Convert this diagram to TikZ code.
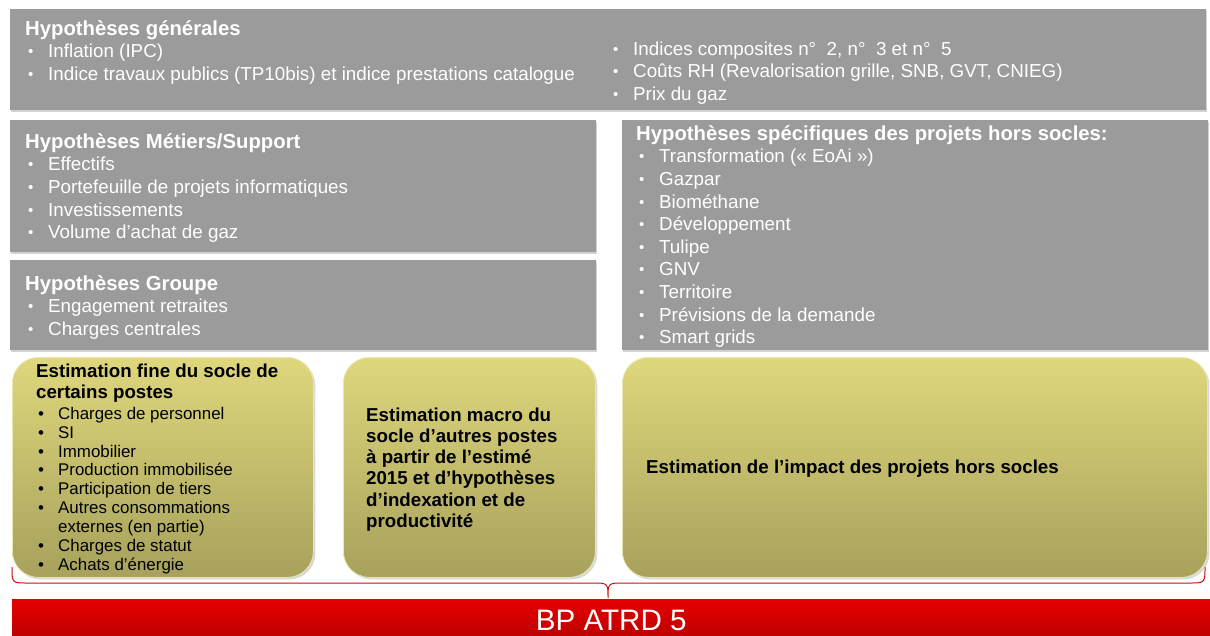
\documentclass[tikz,border=0pt]{standalone}
\usepackage{fontspec}
\setmainfont{Liberation Sans}
\usetikzlibrary{positioning,shadows}

\definecolor{hypgrey}{RGB}{155,155,155}
\definecolor{esttop}{RGB}{222,215,124}
\definecolor{estbot}{RGB}{167,161,92}
\definecolor{bptop}{RGB}{230,0,0}
\definecolor{bpbot}{RGB}{185,0,0}
\definecolor{bracered}{RGB}{200,16,16}

\newcommand{\hypstrut}{\rule{0pt}{15pt}}
\newcommand{\hyptitle}{\fontsize{20.3}{22.6}\selectfont\bfseries}
\newcommand{\itm}[1]{\makebox[23pt][l]{\hspace{3pt}\raisebox{1pt}{\fontsize{15}{15}\selectfont\textbullet}}#1}
\newcommand{\eitm}[1]{\makebox[22pt][l]{\hspace{2pt}\textbullet}#1}

\tikzset{
  hypbox/.style={fill=hypgrey, anchor=north west, inner sep=0pt,
    drop shadow={shadow xshift=1pt, shadow yshift=-2pt, opacity=0.35}},
  hyptext/.style={anchor=north west, inner sep=0pt, align=left, text=white,
    font=\fontsize{18.8}{22.6}\selectfont},
  estbox/.style={anchor=north west, inner sep=0pt, rounded corners=26pt,
    top color=esttop, bottom color=estbot, draw=esttop!60!white, line width=0.8pt,
    drop shadow={shadow xshift=2pt, shadow yshift=-2pt, opacity=0.3}},
  esttext/.style={anchor=north west, inner sep=0pt, align=left, text=black,
    font=\fontsize{18.7}{21.2}\selectfont\bfseries},
}

\begin{document}
\begin{tikzpicture}[x=1pt,y=-1pt]
\useasboundingbox (0,0) rectangle (1210,635);

% brace behind the estimates
\coordinate (brl) at (12,567);
\coordinate (brm) at (608,598);
\coordinate (brr) at (1205,567);
\draw[bracered, line width=1pt] (brl) .. controls (12,583) .. (28,583) -- (592,583)
  .. controls (608,583) .. (brm) .. controls (608,583) .. (624,583) -- (1189,583)
  .. controls (1205,583) .. (brr);

% hypotheses
\node[hypbox, minimum width=1196pt, minimum height=101pt] (gen) at (10,9) {};
\node[hyptext] (gentxt) at ([shift={(15,11)}]gen.north west)
  {\hypstrut{\hyptitle Hypothèses générales}\\
   \itm{Inflation (IPC)}\\
   \itm{Indice travaux publics (TP10bis) et indice prestations catalogue}};
\node[hyptext] (genright) at ([shift={(600,31)}]gen.north west)
  {\hypstrut\itm{Indices composites n°~~2, n°~~3 et n°~~5}\\
   \itm{Coûts RH (Revalorisation grille, SNB, GVT, CNIEG)}\\
   \itm{Prix du gaz}};

\node[hypbox, minimum width=586pt, minimum height=132pt] (metier) at (10,120) {};
\node[hyptext] (mettxt) at ([shift={(15,13)}]metier.north west)
  {\hypstrut{\hyptitle Hypothèses Métiers/Support}\\
   \itm{Effectifs}\\
   \itm{Portefeuille de projets informatiques}\\
   \itm{Investissements}\\
   \itm{Volume d’achat de gaz}};

\node[hypbox, minimum width=586pt, minimum height=90pt] (groupe) at (10,260) {};
\node[hyptext] (grptxt) at ([shift={(15,15)}]groupe.north west)
  {\hypstrut{\hyptitle Hypothèses Groupe}\\
   \itm{Engagement retraites}\\
   \itm{Charges centrales}};

\node[hypbox, minimum width=586pt, minimum height=230pt] (spec) at (622,120) {};
\node[hyptext] (spectxt) at ([shift={(14,5)}]spec.north west)
  {\hypstrut{\hyptitle Hypothèses spécifiques des projets hors socles:}\\
   \itm{Transformation (« EoAi »)}\\
   \itm{Gazpar}\\
   \itm{Biométhane}\\
   \itm{Développement}\\
   \itm{Tulipe}\\
   \itm{GNV}\\
   \itm{Territoire}\\
   \itm{Prévisions de la demande}\\
   \itm{Smart grids}};

% estimates
\node[estbox, minimum width=301pt, minimum height=220pt] (fine) at (12,357) {};
\node[esttext] (finetitle) at ([shift={(24,5)}]fine.north west)
  {\hypstrut Estimation fine du socle de\\ certains postes};
\node[esttext, font=\fontsize{16.9}{18.9}\selectfont] (fineitems) at ([shift={(24,47)}]fine.north west)
  {\hypstrut\eitm{Charges de personnel}\\
   \eitm{SI}\\
   \eitm{Immobilier}\\
   \eitm{Production immobilisée}\\
   \eitm{Participation de tiers}\\
   \eitm{Autres consommations}\\
   \makebox[22pt]{}externes (en partie)\\
   \eitm{Charges de statut}\\
   \eitm{Achats d’énergie}};

\node[estbox, minimum width=252pt, minimum height=220pt] (macro) at (343,357) {};
\node[esttext] (macrotxt) at ([shift={(23,49)}]macro.north west)
  {\hypstrut Estimation macro du\\ socle d’autres postes\\ à partir de l’estimé\\
   2015 et d’hypothèses\\ d’indexation et de\\ productivité};

\node[estbox, minimum width=585pt, minimum height=220pt] (impact) at (622,357) {};
\node[esttext] (impacttxt) at ([shift={(24,101)}]impact.north west)
  {\hypstrut Estimation de l’impact des projets hors socles};

% result
\node[anchor=north west, inner sep=0pt, minimum width=1198pt, minimum height=42pt,
  top color=bptop, bottom color=bpbot, text=white, font=\fontsize{29.6}{32}\selectfont]
  (bp) at (12,599) {BP ATRD 5};
\end{tikzpicture}
\end{document}
